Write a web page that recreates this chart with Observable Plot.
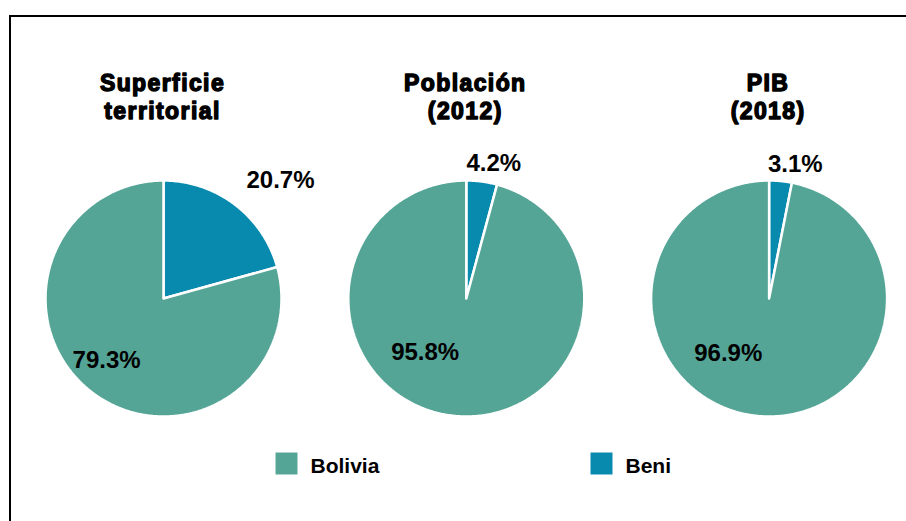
<!DOCTYPE html>
<html>
<head>
<meta charset="utf-8">
<script src="https://cdn.jsdelivr.net/npm/d3@7"></script>
<script src="https://cdn.jsdelivr.net/npm/@observablehq/plot@0.6"></script>
<style>
  html, body { margin: 0; padding: 0; background: #fff; overflow: hidden; }
  #wrap { position: relative; width: 906px; height: 521px; }
  #frame { position: absolute; left: 9px; top: 15px; width: 1000px; height: 600px;
           border-top: 2px solid #000; border-left: 2px solid #000; pointer-events: none; }
  g[font-size="23"] text { letter-spacing: 1.4px; }
</style>
</head>
<body>
<div id="wrap"><div id="frame"></div></div>
<script>
// ---- data ----
const metrics = ["Superficie\nterritorial", "Población\n(2012)", "PIB\n(2018)"];
const series = ["Bolivia", "Beni"];
const beni = [20.7, 4.2, 3.1];
const bolivia = [79.3, 95.8, 96.9];
const colors = ["#55A597", "#0889AE"];

// ---- layout (pixels) ----
const W = 906, H = 521, R = 118, CY = 298, CX0 = 163, STEP = 302.8;
// label anchors: polar (degrees clockwise from top, radius in px) per pie
const labelAt = [
  {Beni: [44.8, 166], Bolivia: [222.6, 84]},
  {Beni: [11.5, 138], Bolivia: [217.2, 68]},
  {Beni: [11.0, 137], Bolivia: [216.9, 68]}
];

const pts = [];
const labels = [];
const titles = [];
metrics.forEach((m, i) => {
  const cx = CX0 + i * STEP;
  titles.push({cx, text: m});
  const vals = [
    {series: "Beni", value: beni[i]},
    {series: "Bolivia", value: bolivia[i]}
  ];
  const arcs = d3.pie().sort(null).value(d => d.value)(vals);
  arcs.forEach(a => {
    const id = i + "-" + a.data.series;
    pts.push({id, series: a.data.series, x: cx, y: CY});
    const n = Math.max(2, Math.ceil((a.endAngle - a.startAngle) / (Math.PI / 360)));
    for (let k = 0; k <= n; k++) {
      const t = a.startAngle + (a.endAngle - a.startAngle) * k / n;
      pts.push({id, series: a.data.series, x: cx + R * Math.sin(t), y: CY - R * Math.cos(t)});
    }
    pts.push({id, series: a.data.series, x: cx, y: CY});
    const [deg, rr] = labelAt[i][a.data.series];
    const t = deg * Math.PI / 180;
    labels.push({x: cx + rr * Math.sin(t), y: CY - rr * Math.cos(t), text: a.data.value.toFixed(1) + "%"});
  });
});

const legendX = {Bolivia: 286, Beni: 601};
const legend = series.map(s => ({series: s, x: legendX[s]}));

const chart = Plot.plot({
  width: W,
  height: H,
  margin: 0,
  x: {domain: [0, W], range: [0, W], axis: null},
  y: {domain: [0, H], range: [0, H], axis: null},
  color: {domain: series, range: colors},
  style: {fontFamily: "'Liberation Sans', Arial, sans-serif", background: "transparent", color: "#000"},
  marks: [
    Plot.line(pts, {x: "x", y: "y", z: "id", fill: "series", stroke: "white", strokeWidth: 2.5, strokeLinejoin: "miter", curve: "linear"}),
    Plot.text(labels, {x: "x", y: "y", text: "text", fontSize: 24, fontWeight: "bold", fill: "#000"}),
    Plot.text(titles, {x: "cx", y: 95.6, dx: -1, text: "text", fontSize: 23, fontWeight: "bold", lineHeight: 1.217, fill: "#000", stroke: "#000", strokeWidth: 1.4}),
    Plot.dot(legend, {x: "x", y: 463, symbol: "square", r: 12.4, fill: "series", stroke: null}),
    Plot.text(legend, {x: d => d.x + 24, y: 465.3, text: "series", textAnchor: "start", fontSize: 21, fontWeight: "bold", fill: "#000"})
  ]
});
document.getElementById("wrap").prepend(chart);
</script>
</body>
</html>
